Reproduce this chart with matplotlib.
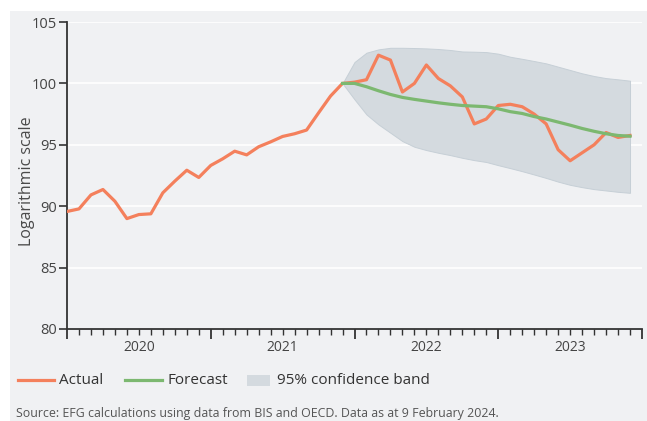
import numpy as np
import matplotlib.pyplot as plt
from matplotlib.patches import Rectangle
from matplotlib.lines import Line2D

plt.rcParams['font.family'] = ['Open Sans', 'DejaVu Sans']

# monthly index, Jan 2020 = 0
actual = [89.57, 89.78, 90.92, 91.36, 90.4, 88.99, 89.32, 89.38, 91.09, 92.04,
          92.93, 92.34, 93.32, 93.86, 94.48, 94.18, 94.84, 95.24, 95.68, 95.9,
          96.2, 97.6, 98.97, 100.0, 100.1, 100.3, 102.3, 101.9, 99.3, 100.0,
          101.5, 100.4, 99.8, 98.9, 96.7, 97.1, 98.2, 98.3, 98.1, 97.5,
          96.7, 94.6, 93.7, 94.35, 95.0, 96.0, 95.6, 95.76]
forecast_start = 23
forecast = [100.0, 100.0, 99.73, 99.4, 99.1, 98.86, 98.7, 98.56, 98.42, 98.3,
            98.2, 98.15, 98.1, 97.93, 97.7, 97.55, 97.3, 97.1, 96.85, 96.6,
            96.33, 96.1, 95.9, 95.76, 95.7]
band_upper = [100.0, 101.74, 102.5, 102.77, 102.9, 102.9, 102.88, 102.85, 102.8, 102.72,
              102.6, 102.58, 102.55, 102.42, 102.17, 102.0, 101.82, 101.63, 101.36, 101.09,
              100.82, 100.6, 100.43, 100.33, 100.22]
band_lower = [100.0, 98.7, 97.47, 96.66, 95.98, 95.3, 94.84, 94.57, 94.35, 94.16,
              93.94, 93.75, 93.6, 93.34, 93.1, 92.85, 92.58, 92.3, 92.0, 91.74,
              91.55, 91.39, 91.28, 91.17, 91.09]
years = ['2020', '2021', '2022', '2023']
legend_labels = ['Actual', 'Forecast', '95% confidence band']

bg = '#f0f1f3'
c_actual = '#f4805c'
c_fc = '#7cb870'
c_band = '#d4dadf'
W, H = 647, 421

fig = plt.figure(figsize=(6.47, 4.21), dpi=100)
fig.patch.set_facecolor('white')
fig.add_artist(Rectangle((10/W, 0), 1, 410/H, transform=fig.transFigure,
                         facecolor=bg, edgecolor='none', zorder=-5))

ax = fig.add_axes([67/W, 1-329/H, 575/W, 307/H])
ax.set_facecolor(bg)

x_act = np.arange(len(actual))
x_fc = np.arange(forecast_start, forecast_start + len(forecast))

ax.fill_between(x_fc, band_lower, band_upper, facecolor=c_band,
                edgecolor='#c6cfd6', lw=0.7, zorder=2)
ax.plot(x_act, actual, color=c_actual, lw=2.3, zorder=3)
ax.plot(x_fc, forecast, color=c_fc, lw=2.3, zorder=4)

ax.set_xlim(0, 48)
ax.set_ylim(80, 105)
ax.set_yticks(range(80, 106, 5))
ax.yaxis.grid(True, color='white', lw=1.2, zorder=0)
ax.set_axisbelow(True)

ax.set_xticks(range(0, 49, 12))
ax.set_xticks(range(0, 49), minor=True)
ax.set_xticklabels([])
for i, y in enumerate(years):
    ax.text(6 + 12 * i, -0.035, y, transform=ax.get_xaxis_transform(),
            ha='center', va='top', fontsize=10, color='#444444')

for s in ['top', 'right']:
    ax.spines[s].set_visible(False)
for s in ['left', 'bottom']:
    ax.spines[s].set_color('#333333')
    ax.spines[s].set_linewidth(1.3)
ax.tick_params(axis='y', length=6, width=1.2, color='#333333', labelsize=10.5,
               labelcolor='#444444', pad=1)
ax.tick_params(axis='x', which='major', length=7, width=1.3, color='#333333')
ax.tick_params(axis='x', which='minor', length=4, width=1.0, color='#333333')

ax.set_ylabel('Logarithmic scale', fontsize=11.5, color='#4a4a4a')
ax.yaxis.set_label_coords((35 - 67) / 575, 0.48)

# legend drawn by hand to match the spacing
ly = 1 - 380/H
fig.add_artist(Line2D([18/W, 54/W], [ly, ly], color=c_actual, lw=2.3))
fig.text(59/W, ly, legend_labels[0], fontsize=11, color='#333333', va='center')
fig.add_artist(Line2D([125/W, 162/W], [ly, ly], color=c_fc, lw=2.3))
fig.text(167/W, ly, legend_labels[1], fontsize=11, color='#333333', va='center')
fig.add_artist(Rectangle((247/W, 1-386/H), 23/W, 11/H, facecolor=c_band,
                         edgecolor='none', transform=fig.transFigure))
fig.text(277/W, ly, legend_labels[2], fontsize=11, color='#333333', va='center')

fig.text(16/W, 1-413/H, 'Source: EFG calculations using data from BIS and OECD. '
         'Data as at 9 February 2024.', fontsize=8.9, color='#555555',
         ha='left', va='center')

fig.savefig('out.png', dpi=100, facecolor=fig.get_facecolor())
